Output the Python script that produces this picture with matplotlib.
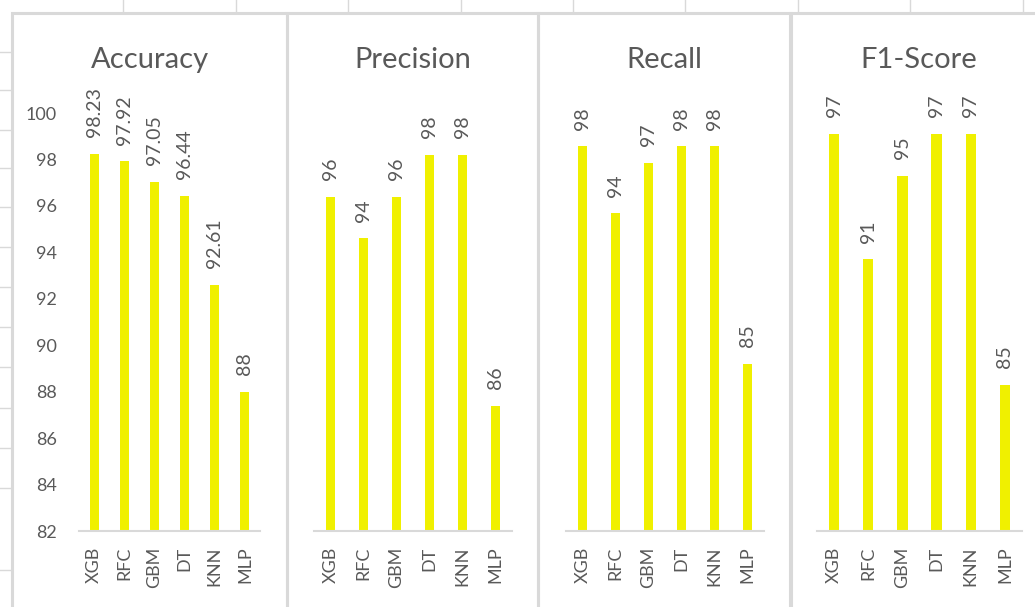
import matplotlib.pyplot as plt
from matplotlib.patches import Rectangle
from matplotlib.lines import Line2D

plt.rcParams['font.family'] = ['Lato', 'DejaVu Sans']

models = ['XGB', 'RFC', 'GBM', 'DT', 'KNN', 'MLP']
accuracy = [98.23, 97.92, 97.05, 96.44, 92.61, 88]
precision = [96, 94, 96, 98, 98, 86]
recall = [98, 94, 97, 98, 98, 85]
f1_score = [97, 91, 95, 97, 97, 85]
titles = ['Accuracy', 'Precision', 'Recall', 'F1-Score']
acc_ticks = list(range(82, 101, 2))

W, H = 1035, 607
GRAY = '#595959'
LINE = '#d9d9d9'
BAR = '#F0F000'


def box(x0, y0, x1, y1):
    # pixel box -> figure fraction [left, bottom, width, height]
    return [x0 / W, 1 - y1 / H, (x1 - x0) / W, (y1 - y0) / H]


fig = plt.figure(figsize=(W / 100, H / 100), dpi=100)

# faint worksheet cell lines peeking out around the charts
for x in [123, 236, 348, 461, 573, 685, 798, 910, 1023]:
    fig.add_artist(Line2D([x / W] * 2, [1, 1 - 13 / H], color=LINE, lw=1))
for y in [52, 90, 130, 168, 207, 247, 287, 327, 367, 408, 448, 488, 570]:
    fig.add_artist(Line2D([0, 12 / W], [1 - y / H] * 2, color=LINE, lw=1))

# (panel left, panel right, plot left, plot right, y range)
layout = [(12, 287, 79, 260, (82, 100)),
          (287, 538, 314, 512, (80, 100)),
          (538, 790, 566, 764, (75, 100)),
          (791, 1047, 817, 1022, (78, 98))]
series = [accuracy, precision, recall, f1_score]

for k, (vals, title, (p0, p1, a0, a1, ylim)) in enumerate(zip(series, titles, layout)):
    fig.add_artist(Rectangle(((p0) / W, 1 - 625 / H), (p1 - p0) / W, (625 - 13) / H,
                             transform=fig.transFigure, fill=False,
                             edgecolor=LINE, lw=2.2, clip_on=False))
    fig.text((p0 + p1) / 2 / W, 1 - 68 / H, title, ha='center', va='baseline',
             fontsize=21, color=GRAY)

    ax = fig.add_axes(box(a0, 113, a1, 531))
    ax.patch.set_alpha(0)
    x = list(range(len(models)))
    ax.bar(x, vals, width=0.3, color=BAR)
    ax.set_xlim(-0.5, len(models) - 0.5)
    ax.set_ylim(*ylim)
    for s in ['top', 'right', 'left']:
        ax.spines[s].set_visible(False)
    ax.spines['bottom'].set_color(LINE)
    ax.spines['bottom'].set_linewidth(1.5)
    ax.set_xticks(x, models, rotation=90)
    ax.tick_params(axis='x', length=0, pad=11, labelsize=13, labelcolor=GRAY)
    if k == 0:
        ax.set_yticks(acc_ticks)
        ax.tick_params(axis='y', length=0, pad=16, labelsize=13, labelcolor=GRAY)
    else:
        ax.set_yticks([])
    for i, v in enumerate(vals):
        ax.annotate(f'{v:g}', (i, v), xytext=(0, 12), textcoords='offset points',
                    rotation=90, ha='center', va='bottom', fontsize=14, color=GRAY)

fig.savefig('out.png', dpi=100)
